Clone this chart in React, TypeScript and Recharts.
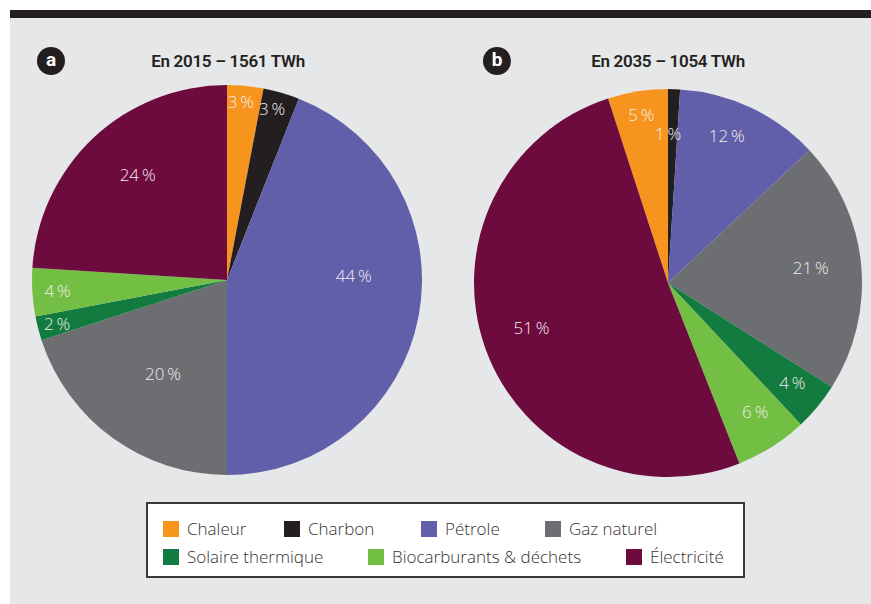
import React from 'react';
import { PieChart, Pie, Cell } from 'recharts';

const categories = ['Chaleur', 'Charbon', 'Pétrole', 'Gaz naturel', 'Solaire thermique', 'Biocarburants & déchets', 'Électricité'];
const values2015 = [3, 3, 44, 20, 2, 4, 24];
const values2035 = [5, 1, 12, 21, 4, 6, 51];
const titles = ['En 2015 – 1561 TWh', 'En 2035 – 1054 TWh'];
const badges = ['a', 'b'];

const colors = ['#F7941D', '#231F20', '#615FA9', '#6D6E71', '#137B3F', '#72BF44', '#6D0A3E'];

// label placement styling (radius fraction, clockwise angle shift in degrees)
const labelRadiusA = [0.92, 0.91, 0.65, 0.58, 0.9, 0.87, 0.71];
const labelShiftA = [-1, -1.5, -12.8, -1.5, 0, 0, 3];
const labelRadiusB = [0.88, 0.77, 0.82, 0.74, 0.82, 0.8, 0.74];
const labelShiftB = [0, -1.8, -3.5, -0.6, -1, -1.8, 1.8];

const dataA = categories.map((name, i) => ({ name, value: values2015[i] }));
const dataB = categories.map((name, i) => ({ name, value: values2035[i] }));

const RAD = Math.PI / 180;

const makeLabel = (radii: number[], shifts: number[]) => (props: any) => {
  const { cx, cy, midAngle, outerRadius, index, value } = props;
  const r = outerRadius * radii[index];
  const a = (midAngle - shifts[index]) * RAD;
  const x = cx + r * Math.cos(a);
  const y = cy - r * Math.sin(a);
  return (
    <text
      x={x}
      y={y}
      fill="#F3ECEE"
      textAnchor="middle"
      dominantBaseline="central"
      fontFamily="'Open Sans', sans-serif"
      fontWeight={300}
      fontSize={17}
    >
      {`${value}\u2009%`}
    </text>
  );
};

const font = "'Open Sans', 'Noto Sans', sans-serif";

export default function App() {
  const pieCx = [227, 668];
  const badgeX = [51, 497];
  const titleX = [228, 668];
  return (
    <div style={{ position: 'relative', width: 871, height: 604, background: '#ffffff', overflow: 'hidden' }}>
      <style>{`body{margin:0}`}</style>
      <div style={{ position: 'absolute', left: 10, top: 10, width: 861, height: 8, background: '#231F20' }} />
      <div style={{ position: 'absolute', left: 10, top: 18, width: 861, height: 586, background: '#E6E7E8' }} />
      {badges.map((b, i) => (
        <div
          key={b}
          style={{
            position: 'absolute',
            left: badgeX[i] - 14,
            top: 47,
            width: 28,
            height: 28,
            borderRadius: 14,
            background: '#231F20',
            color: '#fff',
            fontFamily: "'Roboto', sans-serif",
            fontWeight: 700,
            fontSize: 19,
            lineHeight: '26px',
            textAlign: 'center',
          }}
        >
          {b}
        </div>
      ))}
      {titles.map((t, i) => (
        <div
          key={t}
          style={{
            position: 'absolute',
            left: titleX[i] - 120,
            top: 50,
            width: 240,
            textAlign: 'center',
            fontFamily: "'Roboto', sans-serif",
            fontWeight: 600,
            fontSize: 17,
            letterSpacing: -0.3,
            lineHeight: '22px',
            color: '#231F20',
          }}
        >
          {t}
        </div>
      ))}
      <div style={{ position: 'absolute', left: 0, top: 0 }}>
        <PieChart width={871} height={604} margin={{ top: 0, right: 0, bottom: 0, left: 0 }}>
          <Pie
            data={dataA}
            dataKey="value"
            nameKey="name"
            cx={pieCx[0]}
            cy={280}
            outerRadius={195}
            startAngle={90}
            endAngle={-270}
            stroke="none"
            isAnimationActive={false}
            labelLine={false}
            label={makeLabel(labelRadiusA, labelShiftA)}
          >
            {dataA.map((d, i) => (
              <Cell key={d.name} fill={colors[i]} />
            ))}
          </Pie>
          <Pie
            data={dataB}
            dataKey="value"
            nameKey="name"
            cx={pieCx[1]}
            cy={283}
            outerRadius={194}
            startAngle={108}
            endAngle={-252}
            stroke="none"
            isAnimationActive={false}
            labelLine={false}
            label={makeLabel(labelRadiusB, labelShiftB)}
          >
            {dataB.map((d, i) => (
              <Cell key={d.name} fill={colors[i]} />
            ))}
          </Pie>
        </PieChart>
      </div>
      <div
        style={{
          position: 'absolute',
          left: 146,
          top: 502,
          width: 595,
          height: 72,
          border: '2px solid #3A3A3C',
          background: '#ffffff',
        }}
      >
        {[
          [0, 1, 2, 3],
          [4, 5, 6],
        ].map((row, ri) => (
          <div key={ri} style={{ position: 'absolute', left: 0, top: ri === 0 ? 15 : 43, width: '100%' }}>
            {row.map((ci) => {
              const lefts = [15, 136, 273, 397, 15, 220, 478];
              return (
                <div
                  key={ci}
                  style={{
                    position: 'absolute',
                    left: lefts[ci],
                    top: 0,
                    display: 'flex',
                    alignItems: 'center',
                    whiteSpace: 'nowrap',
                  }}
                >
                  <div style={{ width: 16, height: 16, background: colors[ci], marginRight: 8 }} />
                  <span style={{ fontFamily: font, fontWeight: 300, fontSize: 17, color: '#333', lineHeight: '20px' }}>
                    {categories[ci]}
                  </span>
                </div>
              );
            })}
          </div>
        ))}
      </div>
    </div>
  );
}
